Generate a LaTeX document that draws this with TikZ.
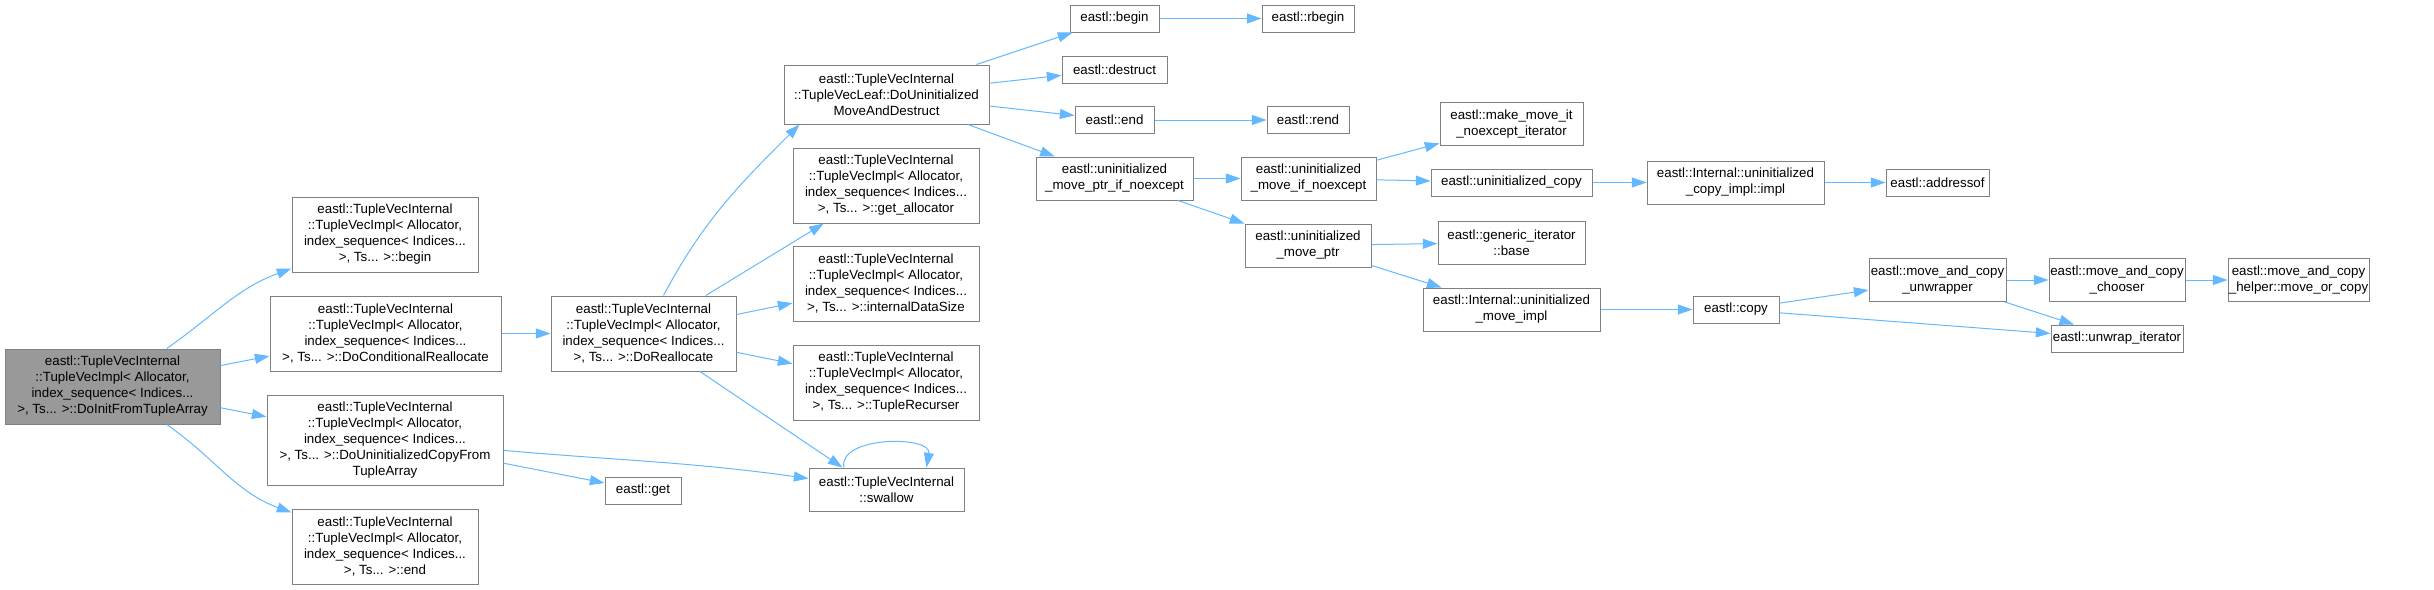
\documentclass[tikz,border=0pt]{standalone}
\usepackage{fontspec}
\setmainfont{Liberation Sans}
\usetikzlibrary{arrows.meta,calc}

\definecolor{edgeblue}{HTML}{63B8FF}
\definecolor{boxgray}{HTML}{808080}
\definecolor{rootgray}{HTML}{999999}

\begin{document}
\begin{tikzpicture}[
    x=0.75pt, y=0.75pt, % 1 unit = 1 px of the doxygen image
    >={Triangle[length=11pt,width=7.5pt]},
    basebox/.style={
        draw=boxgray,
        line width=0.75pt,
        rectangle,
        inner sep=0pt,
        align=center,
        font=\fontsize{10pt}{12pt}\selectfont
    },
    fnbox/.style={basebox, fill=white},
    rootbox/.style={basebox, fill=rootgray},
    boxsize/.style 2 args={minimum width=#1*0.75pt, minimum height=#2*0.75pt},
    arrow/.style={->, draw=edgeblue, line width=0.75pt}
]
\useasboundingbox (0,0) rectangle (2434,-589);

% --- NODES ---
\node[rootbox, boxsize={215}{75}] (root) at (112.5,-386.5)
{eastl::TupleVecInternal\\::TupleVecImpl< Allocator,\\index\_sequence< Indices...\\>, Ts... >::DoInitFromTupleArray};

% first column
\node[fnbox, boxsize={186}{75}] (tvbegin) at (385,-234.5)
{eastl::TupleVecInternal\\::TupleVecImpl< Allocator,\\index\_sequence< Indices...\\>, Ts... >::begin};
\node[fnbox, boxsize={231}{75}] (condrealloc) at (385.5,-333.5)
{eastl::TupleVecInternal\\::TupleVecImpl< Allocator,\\index\_sequence< Indices...\\>, Ts... >::DoConditionalReallocate};
\node[fnbox, boxsize={236}{90}] (copyfrom) at (385,-440)
{eastl::TupleVecInternal\\::TupleVecImpl< Allocator,\\index\_sequence< Indices...\\>, Ts... >::DoUninitializedCopyFrom\\TupleArray};
\node[fnbox, boxsize={186}{75}] (tvend) at (385,-546.5)
{eastl::TupleVecInternal\\::TupleVecImpl< Allocator,\\index\_sequence< Indices...\\>, Ts... >::end};

% second column
\node[fnbox, boxsize={185}{75}] (doreallocate) at (643.5,-333.5)
{eastl::TupleVecInternal\\::TupleVecImpl< Allocator,\\index\_sequence< Indices...\\>, Ts... >::DoReallocate};
\node[fnbox, boxsize={76}{27}] (eget) at (643,-490.5) {eastl::get};

% third column
\node[fnbox, boxsize={205}{59}] (moveanddestruct) at (886.5,-94.5)
{eastl::TupleVecInternal\\::TupleVecLeaf::DoUninitialized\\MoveAndDestruct};
\node[fnbox, boxsize={186}{75}] (getalloc) at (886,-185.5)
{eastl::TupleVecInternal\\::TupleVecImpl< Allocator,\\index\_sequence< Indices...\\>, Ts... >::get\_allocator};
\node[fnbox, boxsize={186}{75}] (datasize) at (886,-284)
{eastl::TupleVecInternal\\::TupleVecImpl< Allocator,\\index\_sequence< Indices...\\>, Ts... >::internalDataSize};
\node[fnbox, boxsize={186}{75}] (recurser) at (886,-382.5)
{eastl::TupleVecInternal\\::TupleVecImpl< Allocator,\\index\_sequence< Indices...\\>, Ts... >::TupleRecurser};
\node[fnbox, boxsize={155}{43}] (swallow) at (886.5,-489.5)
{eastl::TupleVecInternal\\::swallow};

% fourth column
\node[fnbox, boxsize={89}{27}] (ebegin) at (1114.5,-18.5) {eastl::begin};
\node[fnbox, boxsize={105}{27}] (destruct) at (1114.5,-69.5) {eastl::destruct};
\node[fnbox, boxsize={79}{27}] (eend) at (1114.5,-120) {eastl::end};
\node[fnbox, boxsize={157}{43}] (moveptrnoexcept) at (1114.5,-178.5)
{eastl::uninitialized\\\_move\_ptr\_if\_noexcept};

% fifth column
\node[fnbox, boxsize={92}{27}] (rbegin) at (1308,-18.5) {eastl::rbegin};
\node[fnbox, boxsize={82}{27}] (rend) at (1308,-120) {eastl::rend};
\node[fnbox, boxsize={135}{43}] (moveifnoexcept) at (1308.5,-178.5)
{eastl::uninitialized\\\_move\_if\_noexcept};
\node[fnbox, boxsize={126}{43}] (moveptr) at (1308,-245.5)
{eastl::uninitialized\\\_move\_ptr};

% sixth column
\node[fnbox, boxsize={143}{43}] (makemoveit) at (1511.5,-124)
{eastl::make\_move\_it\\\_noexcept\_iterator};
\node[fnbox, boxsize={161}{27}] (uninitcopy) at (1511.5,-182.5) {eastl::uninitialized\_copy};
\node[fnbox, boxsize={147}{43}] (genericbase) at (1511.5,-242.5)
{eastl::generic\_iterator\\::base};
\node[fnbox, boxsize={177}{43}] (moveimpl) at (1511.5,-309.5)
{eastl::Internal::uninitialized\\\_move\_impl};

% seventh column
\node[fnbox, boxsize={177}{43}] (copyimpl) at (1735.5,-182.5)
{eastl::Internal::uninitialized\\\_copy\_impl::impl};
\node[fnbox, boxsize={86}{27}] (ecopy) at (1736,-309.5) {eastl::copy};

% last columns
\node[fnbox, boxsize={103}{27}] (addressof) at (1937.5,-182.5) {eastl::addressof};
\node[fnbox, boxsize={137}{43}] (unwrapper) at (1937.5,-280)
{eastl::move\_and\_copy\\\_unwrapper};
\node[fnbox, boxsize={136}{43}] (chooser) at (2117,-280)
{eastl::move\_and\_copy\\\_chooser};
\node[fnbox, boxsize={132}{27}] (unwrapiter) at (2117,-338.5) {eastl::unwrap\_iterator};
\node[fnbox, boxsize={141}{43}] (moveorcopy) at (2298.5,-280)
{eastl::move\_and\_copy\\\_helper::move\_or\_copy};

% --- CONNECTIONS ---
\draw[arrow] (root) to[out=35, in=200] (tvbegin);
\draw[arrow] (root) -- (condrealloc);
\draw[arrow] (root) -- (copyfrom);
\draw[arrow] (root) to[out=-35, in=160] (tvend);

\draw[arrow] (condrealloc) -- (doreallocate);
\draw[arrow] (copyfrom) to[out=-5, in=172] (swallow);
\draw[arrow] (copyfrom) -- (eget);

\draw[arrow] ([xshift=15pt]doreallocate.north) to[out=62, in=225] ([xshift=12pt]moveanddestruct.south west);
\draw[arrow] (doreallocate) -- (getalloc);
\draw[arrow] (doreallocate) -- (datasize);
\draw[arrow] (doreallocate) -- (recurser);
\draw[arrow] (doreallocate) -- ([xshift=-33pt]swallow.north);
\draw[arrow] ([xshift=-32pt]swallow.north) .. controls +(-4pt,24pt) and +(4pt,24pt) .. ([xshift=30pt]swallow.north);

% TupleVecLeaf branch
\draw[arrow] (moveanddestruct) -- (ebegin);
\draw[arrow] (moveanddestruct) -- (destruct);
\draw[arrow] (moveanddestruct) -- (eend);
\draw[arrow] (moveanddestruct) -- (moveptrnoexcept);
\draw[arrow] (ebegin) -- (rbegin);
\draw[arrow] (eend) -- (rend);

\draw[arrow] (moveptrnoexcept) -- (moveifnoexcept);
\draw[arrow] (moveptrnoexcept) -- (moveptr);
\draw[arrow] (moveifnoexcept) -- (makemoveit);
\draw[arrow] (moveifnoexcept) -- (uninitcopy);
\draw[arrow] (uninitcopy) -- (copyimpl);
\draw[arrow] (copyimpl) -- (addressof);
\draw[arrow] (moveptr) -- (genericbase);
\draw[arrow] (moveptr) -- (moveimpl);
\draw[arrow] (moveimpl) -- (ecopy);

% copy chain
\draw[arrow] (ecopy) -- (unwrapper);
\draw[arrow] (ecopy) -- (unwrapiter);
\draw[arrow] (unwrapper) -- (chooser);
\draw[arrow] (unwrapper) -- (unwrapiter);
\draw[arrow] (chooser) -- (moveorcopy);

\end{tikzpicture}
\end{document}
